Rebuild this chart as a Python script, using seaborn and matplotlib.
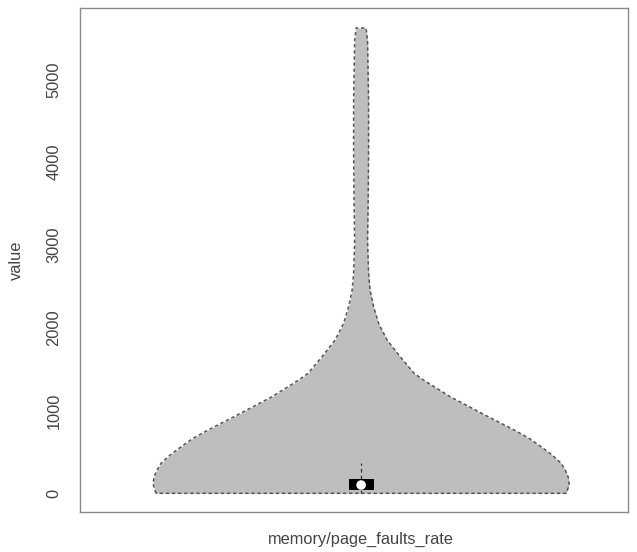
import numpy as np
import pandas as pd
import matplotlib
matplotlib.use("Agg")
import matplotlib.pyplot as plt
import seaborn as sns

# ---- data ----
category = "memory/page_faults_rate"
levels = [0, 64, 121, 200, 281, 362, 463, 563, 664, 764, 963, 1167, 1368, 1449,
          1649, 1851, 2053, 2254, 2455, 2657, 3048, 3531, 4133, 4737, 5462, 5619]
density = [0.986, 0.995, 1.0, 0.995, 0.981, 0.962, 0.918, 0.865, 0.808, 0.736,
           0.582, 0.428, 0.300, 0.255, 0.188, 0.125, 0.084, 0.060, 0.043, 0.036,
           0.031, 0.034, 0.036, 0.036, 0.031, 0.024]
q1, median, q3 = 40, 100, 173
whisker_lo, whisker_hi = 0, 366
yticks = [0, 1000, 2000, 3000, 4000, 5000]

sns.set_theme(style="white")
plt.rcParams["font.family"] = ["Liberation Sans", "DejaVu Sans"]

fig = plt.figure(figsize=(6.37, 5.52), dpi=100)
ax = fig.add_axes([80 / 637, (552 - 511.7) / 552, 548 / 637, (511.7 - 8.3) / 552])

pos = 1.0
halfmax = 0.41
lev = np.array(levels, dtype=float)
den = np.array(density)
left_x = pos - den * halfmax
right_x = pos + den * halfmax

ax.fill_betweenx(lev, left_x, right_x, color="#bebebe", lw=0, zorder=1)

poly = pd.DataFrame({
    "x": np.concatenate([left_x, right_x[::-1], left_x[:1]]),
    "y": np.concatenate([lev, lev[::-1], lev[:1]]),
})
sns.lineplot(data=poly, x="x", y="y", sort=False, estimator=None, ax=ax,
             color="#555555", lw=1.1, linestyle=(0, (2.2, 1.8)), zorder=2)

# whiskers
ax.plot([pos, pos], [q3, whisker_hi], color="#333333", lw=0.9,
        linestyle=(0, (3, 2.5)), zorder=2)
ax.plot([pos, pos], [whisker_lo, q1], color="#333333", lw=0.9,
        linestyle=(0, (3, 2.5)), zorder=2)
# box
ax.bar(pos, q3 - q1, bottom=q1, width=0.049, color="black", lw=0, zorder=3)
# median
sns.scatterplot(x=[pos], y=[median], color="white", s=48, edgecolor="none",
                ax=ax, zorder=4)

ax.set_xlim(0.446, 1.526)
ax.set_ylim(-222, 5857)
ax.set_xticks([pos])
ax.set_xticklabels([category])
ax.set_yticks(yticks)
ax.set_yticklabels([str(v) for v in yticks], rotation=90, va="center")
ax.set_xlabel("")
ax.set_ylabel("value", fontsize=11.8, color="#444444", labelpad=16)

for s in ax.spines.values():
    s.set_color("#8a8a8a")
    s.set_linewidth(1.0)
ax.tick_params(axis="both", which="both", direction="out", length=6.5, width=1.0,
               color="#8a8a8a", labelsize=11.8, labelcolor="#444444", pad=7)
ax.tick_params(axis="x", pad=8)

fig.savefig("out.png", dpi=100)
